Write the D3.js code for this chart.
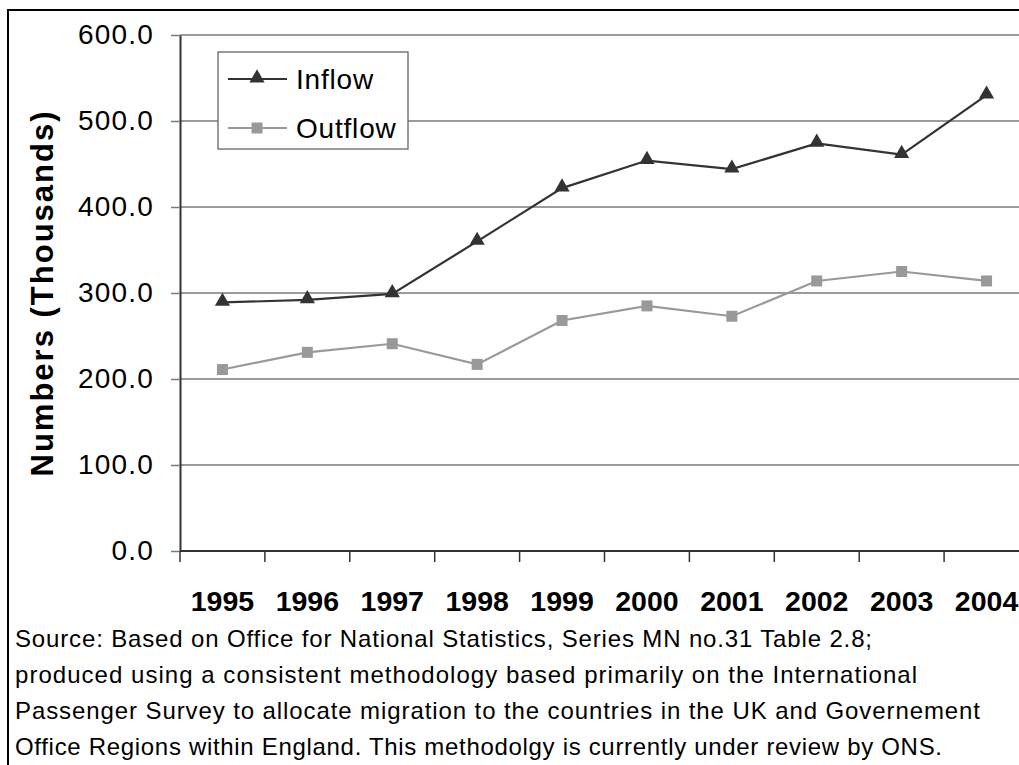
<!DOCTYPE html>
<html>
<head>
<meta charset="utf-8">
<script src="https://cdn.jsdelivr.net/npm/d3@7"></script>
<style>
  html, body { margin: 0; padding: 0; background: #fff; }
  svg { display: block; font-family: "Liberation Sans", Arial, sans-serif; }
</style>
</head>
<body>
<svg id="chart" width="1019" height="765"></svg>
<script>
// Migration flows, thousands per year
const years = ["1995", "1996", "1997", "1998", "1999", "2000", "2001", "2002", "2003", "2004"];
const inflow = [289, 292, 299, 360, 422, 454, 444, 474, 461, 530];
const outflow = [211, 231, 241, 217, 268, 285, 273, 314, 325, 314];
const yTicks = [0, 100, 200, 300, 400, 500, 600];
const seriesNames = ["Inflow", "Outflow"];
const sourceLines = [
  "Source: Based on Office for National Statistics, Series MN no.31 Table 2.8;",
  "produced using a consistent methodology based primarily on the International",
  "Passenger Survey to allocate migration to the countries in the UK and Governement",
  "Office Regions within England. This methodolgy is currently under review by ONS."
];
// rendered width of each note line
const sourceWidths = [857, 902, 965, 927];

const svg = d3.select("#chart");
const plot = { left: 180, right: 1029, top: 35, bottom: 551 };

const x = d3.scaleBand().domain(years).range([plot.left, plot.right]);
const y = d3.scaleLinear().domain([0, 600]).range([plot.bottom, plot.top]);

// outer frame
svg.append("rect")
  .attr("x", 8).attr("y", 10).attr("width", 1040).attr("height", 800)
  .attr("fill", "none").attr("stroke", "#000").attr("stroke-width", 2);

// horizontal gridlines
svg.append("g").selectAll("line").data(yTicks.filter(d => d > 0)).join("line")
  .attr("x1", plot.left).attr("x2", 1040)
  .attr("y1", d => y(d)).attr("y2", d => y(d))
  .attr("stroke", "#7a7a7a").attr("stroke-width", 1.3);

// y axis
const yAxis = svg.append("g").attr("transform", `translate(${plot.left},0)`)
  .call(d3.axisLeft(y).tickValues(yTicks).tickFormat(d3.format(".1f"))
    .tickSize(9).tickSizeOuter(0).tickPadding(17));
yAxis.select(".domain").attr("stroke", "#333").attr("stroke-width", 2);
yAxis.selectAll(".tick line").attr("stroke", "#7a7a7a").attr("stroke-width", 1.5);
yAxis.selectAll(".tick text")
  .attr("font-size", 28).attr("fill", "#000").attr("letter-spacing", 1.2)
  .attr("font-family", "'Liberation Sans', Arial, sans-serif");

// x axis: baseline, category boundary ticks, labels
svg.append("line")
  .attr("x1", plot.left).attr("x2", 1040)
  .attr("y1", plot.bottom).attr("y2", plot.bottom)
  .attr("stroke", "#333").attr("stroke-width", 2);
svg.append("g").selectAll("line").data(years).join("line")
  .attr("x1", d => x(d)).attr("x2", d => x(d))
  .attr("y1", plot.bottom).attr("y2", plot.bottom + 11)
  .attr("stroke", "#333").attr("stroke-width", 1.5);
svg.append("g").selectAll("text").data(years).join("text")
  .attr("x", d => x(d) + x.bandwidth() / 2)
  .attr("y", 611)
  .attr("text-anchor", "middle")
  .attr("font-size", 28.5).attr("font-weight", "bold")
  .text(d => d);

// y axis title
svg.append("text")
  .attr("transform", "translate(53,293) rotate(-90)")
  .attr("text-anchor", "middle")
  .attr("font-size", 31).attr("font-weight", "bold")
  .attr("letter-spacing", 2)
  .text("Numbers (Thousands)");

// series lines and markers
const cx = d => x(d) + x.bandwidth() / 2;
const lineGen = d3.line().x(d => cx(d.year)).y(d => y(d.v));
const triangle = d3.symbol().type(d3.symbolTriangle).size(100);
const square = d3.symbol().type(d3.symbolSquare).size(121);

const series = [
  { name: seriesNames[0], values: inflow, color: "#333333", marker: triangle, dy: -1 },
  { name: seriesNames[1], values: outflow, color: "#999999", marker: square, dy: 0 }
];

series.forEach(s => {
  const pts = years.map((yr, i) => ({ year: yr, v: s.values[i] }));
  svg.append("path").datum(pts)
    .attr("d", lineGen)
    .attr("fill", "none").attr("stroke", s.color).attr("stroke-width", 2.2);
  svg.append("g").selectAll("path").data(pts).join("path")
    .attr("d", s.marker)
    .attr("transform", d => `translate(${cx(d.year)},${y(d.v) + s.dy})`)
    .attr("fill", s.color);
});

// legend
const legend = svg.append("g");
legend.append("rect")
  .attr("x", 218).attr("y", 52).attr("width", 190).attr("height", 97)
  .attr("fill", "#fff").attr("stroke", "#666").attr("stroke-width", 1.3);
series.forEach((s, i) => {
  const ly = 79 + i * 49;
  legend.append("line")
    .attr("x1", 228).attr("x2", 287).attr("y1", ly).attr("y2", ly)
    .attr("stroke", s.color).attr("stroke-width", 2.2);
  legend.append("path")
    .attr("d", s.marker)
    .attr("transform", `translate(257,${ly + s.dy})`)
    .attr("fill", s.color);
  legend.append("text")
    .attr("x", 296).attr("y", ly + 10)
    .attr("font-size", 28).attr("letter-spacing", 0.8)
    .text(s.name);
});

// source note
svg.append("g").selectAll("text").data(sourceLines).join("text")
  .attr("x", 15)
  .attr("y", (d, i) => 647 + i * 36)
  .attr("font-size", 24)
  .attr("textLength", (d, i) => sourceWidths[i])
  .attr("lengthAdjust", "spacing")
  .text(d => d);
</script>
</body>
</html>
